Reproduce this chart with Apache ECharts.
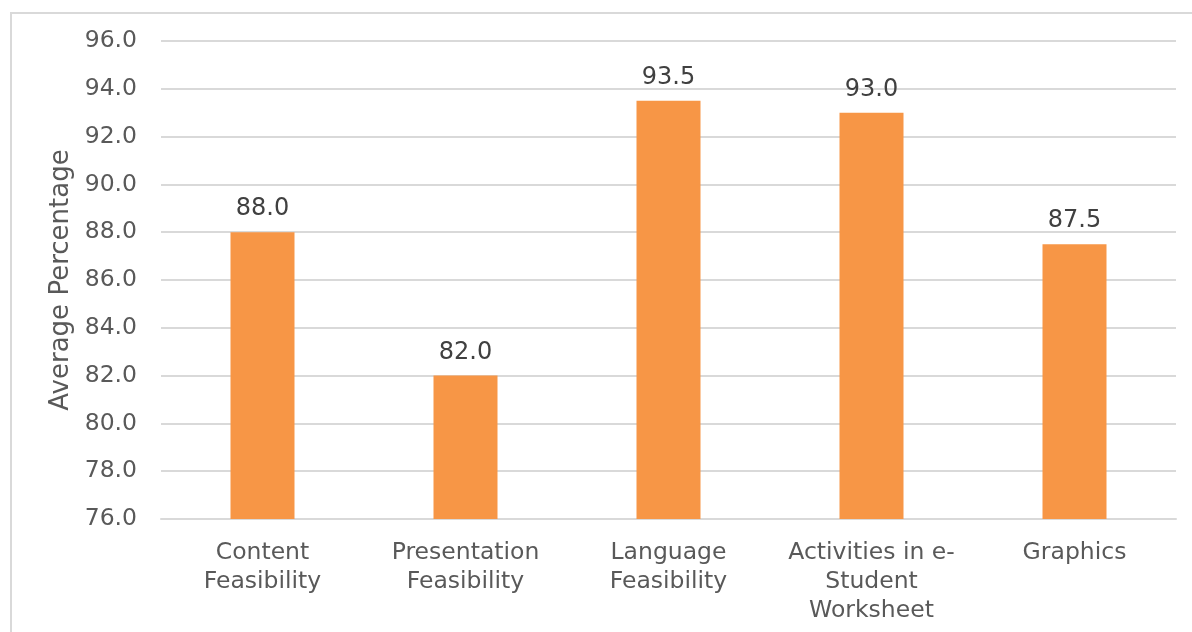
<!DOCTYPE html>
<html>
<head>
<meta charset="utf-8">
<script src="https://cdn.jsdelivr.net/npm/echarts@6/dist/echarts.min.js"></script>
<style>
  html, body { margin: 0; padding: 0; background: #fff; overflow: hidden; }
  #frame { position: absolute; left: 10px; top: 12px; width: 1400px; height: 800px;
           border: 2px solid #d9d9d9; box-sizing: border-box; }
  #chart { position: absolute; left: 0; top: 0; width: 1192px; height: 632px; }
</style>
</head>
<body>
<div id="frame"></div>
<div id="chart"></div>
<script>
const categories = [
  "Content\nFeasibility",
  "Presentation\nFeasibility",
  "Language\nFeasibility",
  "Activities in e-\nStudent\nWorksheet",
  "Graphics"
];
const values = [88.0, 82.0, 93.5, 93.0, 87.5];
const yTicks = { min: 76, max: 96, step: 2 };

const chart = echarts.init(document.getElementById("chart"));
chart.setOption({
  animation: false,
  textStyle: { fontFamily: "DejaVu Sans" },
  grid: { left: 161, right: 16, top: 41, bottom: 113, containLabel: false },
  xAxis: {
    type: "category",
    data: categories,
    axisLine: { lineStyle: { color: "#d9d9d9", width: 2 } },
    axisTick: { show: false },
    axisLabel: { color: "#595959", fontSize: 23.5, lineHeight: 29, margin: 19, interval: 0 }
  },
  yAxis: {
    type: "value",
    min: yTicks.min,
    max: yTicks.max,
    interval: yTicks.step,
    name: "Average Percentage",
    nameLocation: "middle",
    nameGap: 85,
    nameTextStyle: { color: "#595959", fontSize: 26 },
    axisLine: { show: false },
    axisTick: { show: false },
    axisLabel: { color: "#595959", fontSize: 23.5, margin: 24, formatter: v => v.toFixed(1) },
    splitLine: { lineStyle: { color: "#d9d9d9", width: 2 } }
  },
  series: [{
    type: "bar",
    data: values,
    barWidth: 64,
    itemStyle: { color: "#F79646" },
    label: {
      show: true,
      position: "top",
      distance: 11,
      color: "#404040",
      fontSize: 24,
      formatter: p => p.value.toFixed(1)
    }
  }]
});
</script>
</body>
</html>
